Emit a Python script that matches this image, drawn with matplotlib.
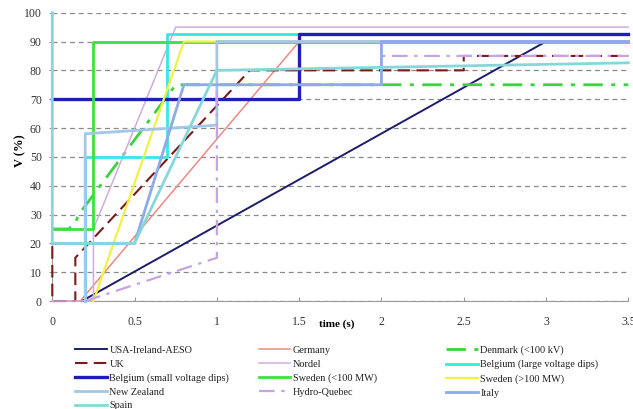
import matplotlib.pyplot as plt

# Kurvor: tid (s) och spänning (%)
usa_t = [0.18, 3.0, 3.5]
usa_v = [0, 90, 90]
germany_t = [0.0, 0.17, 1.5, 3.5]
germany_v = [0, 0, 90, 90]
denmark_t = [0.0, 0.1, 0.14, 0.16, 0.2, 0.75, 3.5]
denmark_v = [25, 25, 27, 30, 33, 75, 75]
uk_t = [0.0, 0.0, 0.14, 0.14, 1.2, 2.5, 2.5, 3.5]
uk_v = [19, 0, 0, 15, 80, 80, 85, 85]
nordel_t = [0.0, 0.25, 0.25, 0.75, 3.5]
nordel_v = [0, 0, 25, 95, 95]
belg_large_t = [0.2, 0.2, 0.7, 0.7, 3.5]
belg_large_v = [0, 50, 50, 92.5, 92.5]
belg_small_t = [0.0, 1.5, 1.5, 3.5]
belg_small_v = [70, 70, 92.5, 92.5]
swe_small_t = [0.0, 0.25, 0.25, 3.5]
swe_small_v = [25, 25, 90, 90]
swe_large_t = [0.25, 0.8, 3.5]
swe_large_v = [0, 90, 90]
nz_t = [0.2, 0.2, 1.0, 1.0, 3.5]
nz_v = [0, 58, 61, 90, 90]
hq_t = [0.2, 1.0, 1.0, 2.0, 2.0, 3.5]
hq_v = [0, 15, 75, 75, 85, 85]
italy_t = [0.0, 0.5, 0.8, 2.0, 2.0, 3.5]
italy_v = [20, 20, 75, 75, 90, 90]
spain_t = [0.0, 0.0, 0.5, 1.0, 3.5]
spain_v = [100, 20, 20, 80, 82.6]

x_ticks = [0, 0.5, 1, 1.5, 2, 2.5, 3, 3.5]
x_labels = ['0', '0.5', '1', '1.5', '2', '2.5', '3', '3.5']
y_ticks = list(range(0, 101, 10))


def main():
    plt.rcParams['font.family'] = ['Liberation Serif', 'DejaVu Serif']
    fig = plt.figure(figsize=(6.33, 4.09), dpi=100)
    ax = fig.add_axes([0.0826, 0.264, 0.910, 0.705])

    dash = (0, (6, 3))
    dashdot = (0, (7, 3, 1.5, 3))
    series = [
        (usa_t, usa_v, 'USA-Ireland-AESO', '#1c1c6b', 1.4, '-'),
        (germany_t, germany_v, 'Germany', '#ec8a80', 1.1, '-'),
        (denmark_t, denmark_v, 'Denmark (<100 kV)', '#3fd23f', 2.0, dashdot),
        (uk_t, uk_v, 'UK', '#7a1a1a', 1.5, dash),
        (nordel_t, nordel_v, 'Nordel', '#cfacdf', 1.1, '-'),
        (belg_large_t, belg_large_v, 'Belgium (large voltage dips)', '#38e6e6', 2.0, '-'),
        (belg_small_t, belg_small_v, 'Belgium (small voltage dips)', '#1f1fb5', 2.4, '-'),
        (swe_small_t, swe_small_v, 'Sweden (<100 MW)', '#3ee03e', 2.0, '-'),
        (swe_large_t, swe_large_v, 'Sweden (>100 MW)', '#f2f044', 1.6, '-'),
        (nz_t, nz_v, 'New Zealand', '#a4c6e8', 2.0, '-'),
        (hq_t, hq_v, 'Hydro-Quebec', '#c7a2e4', 1.6, dashdot),
        (italy_t, italy_v, 'Italy', '#8eaae8', 2.0, '-'),
        (spain_t, spain_v, 'Spain', '#86d8d8', 2.0, '-'),
    ]
    handles = []
    for t, v, name, col, lw, ls in series:
        h, = ax.plot(t, v, color=col, lw=lw, linestyle=ls, label=name,
                     clip_on=False, zorder=3)
        handles.append(h)

    ax.set_xlim(0, 3.5)
    ax.set_ylim(0, 100)
    ax.set_xticks(x_ticks)
    ax.set_xticklabels(x_labels)
    ax.set_yticks(y_ticks)
    ax.yaxis.grid(True, linestyle=(0, (4, 3)), color='#8a8a8a', lw=0.9)
    ax.set_axisbelow(True)
    for s in ['top', 'right']:
        ax.spines[s].set_visible(False)
    for s in ['left', 'bottom']:
        ax.spines[s].set_color('#999999')
    ax.tick_params(axis='x', direction='in', length=3, color='#999999',
                   labelsize=8.5, labelcolor='#333333', pad=11)
    ax.tick_params(axis='y', direction='inout', length=5, color='#999999',
                   labelsize=8.5, labelcolor='#333333', pad=5)

    ax.set_xlabel('time (s)', fontsize=8, fontweight='bold')
    ax.xaxis.label.set_va('center')
    ax.xaxis.set_label_coords(0.493, -0.082)
    ax.set_ylabel('V (%)', fontsize=9, fontweight='bold')
    ax.yaxis.label.set_va('center')
    ax.yaxis.set_label_coords(-0.055, 0.52)

    # Legend i tre kolumner, som i originalet
    cols = [[0, 3, 6, 9, 12], [1, 4, 7, 10], [2, 5, 8, 11]]
    xpos = [0.119, 0.409, 0.705]
    for idx, x in zip(cols, xpos):
        leg = fig.legend(handles=[handles[i] for i in idx], loc='upper left',
                         bbox_to_anchor=(x, 0.155), frameon=False,
                         fontsize=7.4, borderpad=0, borderaxespad=0,
                         handlelength=3.05, handletextpad=0.25,
                         labelspacing=0.45)
        for txt in leg.get_texts():
            txt.set_color('#222222')

    fig.savefig('out.png', dpi=100)


if __name__ == '__main__':
    main()
